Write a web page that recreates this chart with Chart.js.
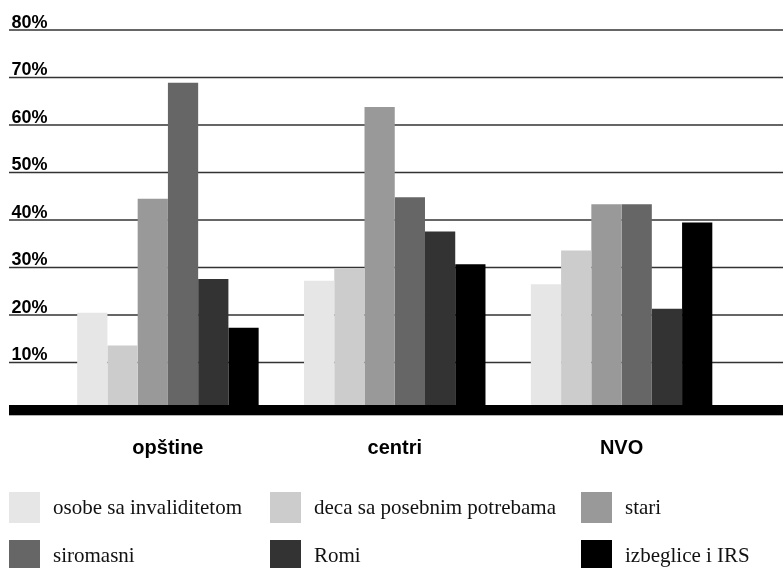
<!DOCTYPE html>
<html>
<head>
<meta charset="utf-8">
<script src="https://cdn.jsdelivr.net/npm/chart.js@4.4.1/dist/chart.umd.min.js"></script>
<style>
  html, body { margin: 0; padding: 0; background: #fff; }
  #wrap { position: relative; width: 783px; height: 568px; overflow: hidden; }
  #chart { position: absolute; left: 0; top: 0; }
  .legend-item {
    position: absolute;
    height: 31px;
    display: flex;
    align-items: center;
    font-family: "Liberation Serif", "DejaVu Serif", serif;
    font-size: 21px;
    color: #111;
    white-space: nowrap;
  }
  .legend-box { width: 31px; height: 31px; margin-right: 13px; flex: none; }
</style>
</head>
<body>
<div id="wrap">
  <canvas id="chart" width="783" height="568"></canvas>
  <div id="legend"></div>
</div>
<script>
const categories = ['opštine', 'centri', 'NVO'];
const seriesNames = ['osobe sa invaliditetom', 'deca sa posebnim potrebama', 'stari', 'siromasni', 'Romi', 'izbeglice i IRS'];

// vrednosti u procentima, po kategoriji
const invalidi = [20.5, 27.2, 26.5];
const deca = [13.6, 29.9, 33.6];
const stari = [44.5, 63.8, 43.3];
const siromasni = [68.9, 44.8, 43.3];
const romi = [27.6, 37.6, 21.3];
const izbeglice = [17.3, 30.7, 39.5];

const yTicks = [10, 20, 30, 40, 50, 60, 70, 80];
const seriesColors = ['#e6e6e6', '#cccccc', '#999999', '#666666', '#333333', '#000000'];

const seriesValues = [invalidi, deca, stari, siromasni, romi, izbeglice];

// grid lines + y labels behind bars, thick black base line on top
const backgroundLines = {
    id: 'backgroundLines',
    beforeDatasetsDraw(chart) {
        const ctx = chart.ctx;
        const yScale = chart.scales.y;
        ctx.save();
        ctx.strokeStyle = '#333';
        ctx.lineWidth = 1.6;
        ctx.fillStyle = '#000';
        ctx.font = 'bold 18px "Liberation Sans", Arial, sans-serif';
        ctx.textBaseline = 'alphabetic';
        ctx.textAlign = 'left';
        yTicks.forEach(v => {
            const py = yScale.getPixelForValue(v);
            ctx.beginPath();
            ctx.moveTo(9, py);
            ctx.lineTo(chart.width, py);
            ctx.stroke();
            ctx.fillText(v + '%', 11.5, py - 2.5);
        });
        ctx.restore();
    },
    afterDatasetsDraw(chart) {
        const ctx = chart.ctx;
        const zero = chart.scales.y.getPixelForValue(0);
        ctx.save();
        ctx.fillStyle = '#000';
        ctx.fillRect(9, zero - 5, chart.width - 9, 10.3);
        ctx.restore();
    }
};

const chart = new Chart(document.getElementById('chart'), {
    type: 'bar',
    data: {
        labels: categories,
        datasets: seriesValues.map((values, i) => ({
            label: seriesNames[i],
            data: values,
            backgroundColor: seriesColors[i],
            borderWidth: 0,
            categoryPercentage: 0.8,
            barPercentage: 1.0
        }))
    },
    options: {
        responsive: false,
        animation: false,
        layout: {
            padding: { top: 30, bottom: 98, left: 54.5, right: 48 }
        },
        plugins: {
            legend: { display: false },
            tooltip: { enabled: false }
        },
        scales: {
            x: {
                grid: { display: false },
                border: { display: false },
                ticks: {
                    color: '#000',
                    padding: 18,
                    font: { family: '"Liberation Sans", Arial, sans-serif', size: 20, weight: 'bold' }
                },
                afterFit: axis => { axis.height = 60; }
            },
            y: {
                display: false,
                min: 0,
                max: 80
            }
        }
    },
    plugins: [backgroundLines]
});

// legend, 3 kolone x 2 reda
const legendDiv = document.getElementById('legend');
const colLeft = [9, 270, 581];
const rowTop = [492, 540];
seriesNames.forEach((name, i) => {
    const item = document.createElement('div');
    item.className = 'legend-item';
    item.style.left = colLeft[i % 3] + 'px';
    item.style.top = rowTop[Math.floor(i / 3)] + 'px';
    const box = document.createElement('span');
    box.className = 'legend-box';
    box.style.background = seriesColors[i];
    const text = document.createElement('span');
    text.textContent = name;
    item.appendChild(box);
    item.appendChild(text);
    legendDiv.appendChild(item);
});
</script>
</body>
</html>
